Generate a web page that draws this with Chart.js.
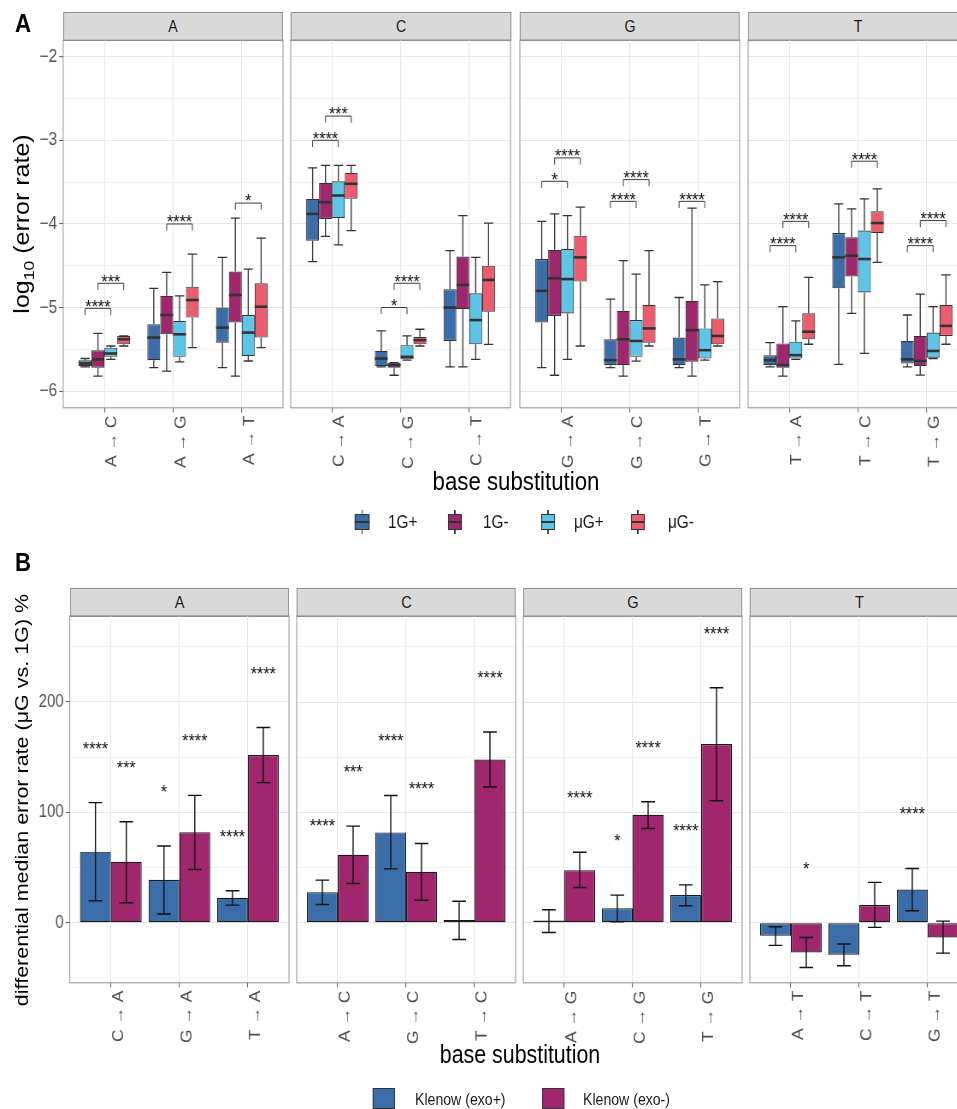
<!DOCTYPE html>
<html lang="en">
<head>
<meta charset="utf-8">
<title>Error rate by base substitution</title>
<script src="https://cdn.jsdelivr.net/npm/chart.js@4.4.1/dist/chart.umd.min.js"></script>
<style>
  html, body { margin: 0; padding: 0; background: #fff; width: 957px; height: 1109px; overflow: hidden; }
  #fig { position: absolute; left: 0; top: 0; width: 1120px; height: 1109px; transform-origin: 0 0;
         font-family: "Liberation Sans", Arial, Helvetica, sans-serif; color: #000; }
  .wrap { position: absolute; }
  .wrap canvas { display: block; }
  .strip { position: absolute; box-sizing: border-box; background: #d9d9d9; border: 1px solid #8f8f8f;
           display: flex; align-items: center; justify-content: center; color: #1a1a1a; }
  .tag { position: absolute; font-weight: bold; line-height: 1; }
  .ytitle { position: absolute; white-space: nowrap; line-height: 1; transform: translate(-50%, -50%) rotate(-90deg); }
  .ytitle sub { font-size: 0.7em; vertical-align: -0.3em; line-height: 0; }
  .xtitle { position: absolute; white-space: nowrap; line-height: 1; transform: translate(-50%, -50%); }
  .legtext { position: absolute; white-space: nowrap; line-height: 1; transform: translateY(-50%); color: #1a1a1a; }
</style>
</head>
<body>
<div id="fig"></div>
<script>
// ---------------- data ----------------
const FACETS = ['A', 'C', 'G', 'T'];

// Panel A: log10 error rate per base substitution, four conditions
const SUBS_A = ['A → C', 'A → G', 'A → T', 'C → A', 'C → G', 'C → T',
                'G → A', 'G → C', 'G → T', 'T → A', 'T → C', 'T → G'];
const GROUPS_A = ['1G+', '1G-', 'μG+', 'μG-'];

// each entry: [lower whisker, Q1, median, Q3, upper whisker]
const BOX_1G_POS = [
  [-5.71, -5.70, -5.67, -5.63, -5.61], [-5.72, -5.63, -5.36, -5.20, -4.77], [-5.72, -5.42, -5.24, -5.00, -4.40],
  [-4.45, -4.20, -3.88, -3.70, -3.33], [-5.71, -5.70, -5.61, -5.52, -5.28], [-5.71, -5.40, -5.00, -4.78, -4.32],
  [-5.72, -5.18, -4.80, -4.42, -3.97], [-5.72, -5.69, -5.63, -5.38, -4.90], [-5.72, -5.69, -5.62, -5.36, -4.88],
  [-5.71, -5.69, -5.63, -5.57, -5.42], [-5.68, -4.77, -4.40, -4.11, -3.76], [-5.71, -5.67, -5.62, -5.40, -5.09]
];
const BOX_1G_NEG = [
  [-5.82, -5.72, -5.62, -5.51, -5.31], [-5.76, -5.32, -5.09, -4.86, -4.58], [-5.82, -5.18, -4.85, -4.57, -3.93],
  [-4.15, -3.94, -3.74, -3.51, -3.30], [-5.81, -5.72, -5.69, -5.66, -5.66], [-5.71, -5.02, -4.73, -4.39, -3.90],
  [-5.81, -5.10, -4.65, -4.31, -3.88], [-5.82, -5.69, -5.38, -5.04, -4.44], [-5.82, -5.65, -5.27, -4.92, -3.81],
  [-5.82, -5.72, -5.69, -5.43, -4.99], [-5.07, -4.63, -4.38, -4.16, -3.82], [-5.81, -5.70, -5.64, -5.34, -4.84]
];
const BOX_UG_POS = [
  [-5.62, -5.59, -5.55, -5.48, -5.46], [-5.65, -5.59, -5.32, -5.16, -4.86], [-5.64, -5.58, -5.30, -5.09, -4.54],
  [-4.25, -3.93, -3.66, -3.49, -3.30], [-5.63, -5.62, -5.59, -5.45, -5.34], [-5.62, -5.44, -5.15, -4.83, -4.40],
  [-5.62, -5.07, -4.66, -4.30, -3.90], [-5.64, -5.59, -5.40, -5.15, -4.60], [-5.63, -5.61, -5.51, -5.25, -4.73],
  [-5.62, -5.61, -5.57, -5.41, -5.16], [-5.55, -4.82, -4.42, -4.08, -3.70], [-5.61, -5.60, -5.52, -5.30, -4.99]
];
const BOX_UG_NEG = [
  [-5.46, -5.44, -5.38, -5.34, -5.34], [-5.48, -5.12, -4.91, -4.75, -4.36], [-5.48, -5.36, -4.99, -4.71, -4.17],
  [-4.08, -3.70, -3.52, -3.39, -3.30], [-5.46, -5.44, -5.39, -5.35, -5.26], [-5.44, -5.05, -4.67, -4.50, -3.99],
  [-5.46, -4.69, -4.40, -4.14, -3.80], [-5.46, -5.42, -5.25, -4.97, -4.32], [-5.46, -5.44, -5.34, -5.13, -4.69],
  [-5.44, -5.38, -5.29, -5.07, -4.64], [-4.46, -4.11, -3.99, -3.85, -3.58], [-5.44, -5.34, -5.22, -4.97, -4.61]
];

// significance brackets: [substitution index, from group, to group, bracket height, label]
const BRACKETS_A = [
  [0, 0, 2, -5.01, '****'], [0, 1, 3, -4.71, '***'], [1, 1, 3, -4.00, '****'], [2, 1, 3, -3.75, '*'],
  [3, 0, 2, -3.00, '****'], [3, 1, 3, -2.71, '***'], [4, 0, 2, -5.00, '*'], [4, 1, 3, -4.71, '****'],
  [6, 0, 2, -3.49, '*'], [6, 1, 3, -3.21, '****'], [7, 0, 2, -3.73, '****'], [7, 1, 3, -3.47, '****'],
  [8, 0, 2, -3.73, '****'], [9, 0, 2, -4.26, '****'], [9, 1, 3, -3.97, '****'], [10, 1, 3, -3.25, '****'],
  [11, 0, 2, -4.26, '****'], [11, 1, 3, -3.96, '****']
];

const Y_TICKS_A = [-6, -5.5, -5, -4.5, -4, -3.5, -3, -2.5, -2];
const Y_LABELS_A = [-6, -5, -4, -3, -2];
const Y_RANGE_A = [-6.2, -1.8];

// Panel B: differential median error rate (μG vs. 1G), %
const SUBS_B = ['C → A', 'G → A', 'T → A', 'A → C', 'G → C', 'T → C',
                'A → G', 'C → G', 'T → G', 'A → T', 'C → T', 'G → T'];
const GROUPS_B = ['Klenow (exo+)', 'Klenow (exo-)'];

const DIFF_EXO_POS = [64.4, 39.0, 22.7, 27.8, 81.9, 2.5, 2.2, 13.3, 25.1, -11.8, -29.0, 30.2];
const LOW_EXO_POS  = [19.9, 7.9, 16.0, 16.6, 48.9, -15.1, -8.8, 0.9, 15.4, -20.5, -39.0, 10.9];
const HIGH_EXO_POS = [108.8, 69.5, 29.0, 38.7, 115.4, 19.6, 11.8, 25.1, 34.4, -3.6, -19.3, 49.2];
const SIG_EXO_POS  = ['****', '*', '****', '****', '****', '', '', '*', '****', '', '', '****'];

const DIFF_EXO_NEG = [55.3, 81.9, 152.0, 61.6, 46.2, 148.0, 47.7, 97.9, 162.0, -26.9, 16.0, -13.3];
const LOW_EXO_NEG  = [18.1, 48.3, 126.9, 35.6, 20.5, 123.0, 32.0, 85.5, 110.6, -40.5, -4.2, -27.5];
const HIGH_EXO_NEG = [91.5, 115.4, 176.8, 87.6, 71.9, 172.9, 64.0, 109.7, 213.0, -13.3, 36.6, 1.5];
const SIG_EXO_NEG  = ['***', '****', '****', '***', '****', '****', '****', '****', '****', '*', '', ''];

const Y_TICKS_B = [-50, 0, 50, 100, 150, 200, 250];
const Y_LABELS_B = [0, 100, 200];
const Y_RANGE_B = [-54.4, 278];

// ---------------- styling & layout ----------------
const COLORS_A = ['#3b6ea8', '#a0276e', '#5cc5e8', '#ee5b6c'];
const COLORS_B = ['#3b6ea8', '#a0276e'];
const BOX_SERIES = [BOX_1G_POS, BOX_1G_NEG, BOX_UG_POS, BOX_UG_NEG];
const BAR_SERIES = [
  { values: DIFF_EXO_POS, low: LOW_EXO_POS, high: HIGH_EXO_POS, sig: SIG_EXO_POS },
  { values: DIFF_EXO_NEG, low: LOW_EXO_NEG, high: HIGH_EXO_NEG, sig: SIG_EXO_NEG }
];
const STAR_GAP_B = 53.5;      // label height above the error bar, in axis units
const BRACKET_TIP_A = 0.08;   // bracket tip length, in axis units

const SQUEEZE = 0.855;        // horizontal compression of the whole figure
const X = v => v / SQUEEZE;

const LAYOUT_A = { lefts: [63, 291, 520, 748], width: 220, top: 40, height: 368, stripTop: 12 };
const LAYOUT_B = { lefts: [70, 297, 523.5, 750], width: 219, top: 616, height: 367, stripTop: 588 };
const FONT = '"Liberation Sans", Arial, Helvetica, sans-serif';

Chart.defaults.font.family = FONT;
Chart.defaults.color = '#4d4d4d';

const fig = document.getElementById('fig');
fig.style.transform = `scaleX(${SQUEEZE})`;

function add(cls, css, html) {
  const d = document.createElement('div');
  if (cls) d.className = cls;
  d.style.cssText = css;
  d.innerHTML = html;
  fig.appendChild(d);
  return d;
}

// ---------------- shared chart pieces ----------------
const panelFrame = {
  id: 'panelFrame',
  afterDraw(chart) {
    const { ctx, chartArea: a } = chart;
    ctx.save();
    ctx.strokeStyle = '#8f8f8f';
    ctx.lineWidth = 1;
    ctx.strokeRect(a.left, a.top, a.right - a.left, a.bottom - a.top);
    ctx.restore();
  }
};

function xAxis(labels, fontSize) {
  return {
    type: 'linear', min: -0.6, max: 2.6, offset: false, bounds: 'data',
    afterBuildTicks: ax => { ax.ticks = labels.map((_, i) => ({ value: i })); },
    grid: { offset: false, color: '#e6e6e6', lineWidth: 1.1, drawTicks: true,
            tickLength: X(4), tickWidth: 1, tickColor: '#5a5a5a' },
    border: { display: false },
    ticks: { autoSkip: false, minRotation: 90, maxRotation: 90, padding: 3,
             labelOffset: X(8), color: '#4d4d4d', font: { size: fontSize },
             callback: (v, i) => labels[i] }
  };
}

function yAxis(ticks, labels, range, show, fontSize) {
  const major = c => !!(c.tick && labels.includes(c.tick.value));
  return {
    type: 'linear', min: range[0], max: range[1], beginAtZero: false, bounds: 'data',
    afterBuildTicks: ax => { ax.ticks = ticks.map(v => ({ value: v })); },
    grid: { color: c => major(c) ? '#e6e6e6' : '#efefef', lineWidth: c => major(c) ? 1.1 : 0.8,
            drawTicks: show, tickLength: X(4), tickWidth: 1,
            tickColor: c => major(c) ? '#5a5a5a' : 'rgba(0,0,0,0)' },
    border: { display: false },
    ticks: { display: show, autoSkip: false, padding: X(2), color: '#4d4d4d', font: { size: fontSize },
             callback: v => labels.includes(v) ? String(v).replace('-', '\u2212') : '' }
  };
}

function baseOptions(xa, ya) {
  return {
    responsive: false, maintainAspectRatio: false, animation: false, devicePixelRatio: 1, events: [],
    layout: { padding: { top: 12, right: 6, bottom: 4, left: 4 } },
    plugins: { legend: { display: false }, tooltip: { enabled: false }, title: { display: false } },
    scales: { x: xa, y: ya }
  };
}

// create a chart, then size its canvas so the plot area lands on the given rectangle
function mountChart(config, area) {
  const wrap = document.createElement('div');
  wrap.className = 'wrap';
  const canvas = document.createElement('canvas');
  canvas.width = Math.round(area.w + 100);
  canvas.height = Math.round(area.h + 120);
  wrap.appendChild(canvas);
  fig.appendChild(wrap);
  const chart = new Chart(canvas, config);
  for (let pass = 0; pass < 2; pass++) {
    const a = chart.chartArea;
    const ml = a.left, mt = a.top, mr = chart.width - a.right, mb = chart.height - a.bottom;
    chart.resize(Math.round(area.w + ml + mr), Math.round(area.h + mt + mb));
  }
  const a = chart.chartArea;
  wrap.style.left = (area.x - a.left) + 'px';
  wrap.style.top = (area.y - a.top) + 'px';
  return chart;
}

// ---------------- panel A: box plots ----------------
function whiskerPlugin(idx) {
  return {
    id: 'boxWhiskers',
    afterDatasetsDraw(chart) {
      const { ctx } = chart;
      const y = chart.scales.y;
      ctx.save();
      ctx.strokeStyle = '#333333';
      BOX_SERIES.forEach((series, s) => {
        chart.getDatasetMeta(s).data.forEach((bar, j) => {
          const [lo, q1, med, q3, hi] = series[idx[j]];
          const half = bar.width / 2, cap = bar.width * 0.36;
          ctx.lineWidth = 1.3;
          ctx.beginPath();
          ctx.moveTo(bar.x, y.getPixelForValue(q3)); ctx.lineTo(bar.x, y.getPixelForValue(hi));
          ctx.moveTo(bar.x, y.getPixelForValue(q1)); ctx.lineTo(bar.x, y.getPixelForValue(lo));
          ctx.moveTo(bar.x - cap, y.getPixelForValue(hi)); ctx.lineTo(bar.x + cap, y.getPixelForValue(hi));
          ctx.moveTo(bar.x - cap, y.getPixelForValue(lo)); ctx.lineTo(bar.x + cap, y.getPixelForValue(lo));
          ctx.stroke();
          ctx.lineWidth = 2.6;
          ctx.beginPath();
          ctx.moveTo(bar.x - half, y.getPixelForValue(med)); ctx.lineTo(bar.x + half, y.getPixelForValue(med));
          ctx.stroke();
        });
      });
      ctx.restore();
    }
  };
}

function bracketPlugin(items) {
  const size = 19;
  return {
    id: 'sigBrackets',
    afterDatasetsDraw(chart) {
      const { ctx } = chart;
      const y = chart.scales.y;
      ctx.save();
      ctx.strokeStyle = '#3a3a3a';
      ctx.lineWidth = 1;
      ctx.fillStyle = '#111111';
      ctx.font = `${size}px ${FONT}`;
      ctx.textAlign = 'center';
      ctx.textBaseline = 'alphabetic';
      items.forEach(([j, a, b, yv, label]) => {
        const xa = chart.getDatasetMeta(a).data[j].x;
        const xb = chart.getDatasetMeta(b).data[j].x;
        const py = y.getPixelForValue(yv), pt = y.getPixelForValue(yv - BRACKET_TIP_A);
        ctx.beginPath();
        ctx.moveTo(xa, pt); ctx.lineTo(xa, py); ctx.lineTo(xb, py); ctx.lineTo(xb, pt);
        ctx.stroke();
        ctx.fillText(label, (xa + xb) / 2, py - 6.7 + 0.58 * size);
      });
      ctx.restore();
    }
  };
}

FACETS.forEach((name, f) => {
  const L = LAYOUT_A;
  add('strip', `left:${X(L.lefts[f])}px;top:${L.stripTop}px;width:${X(L.width)}px;height:${L.top - L.stripTop + 1}px;font-size:16.5px;`, name);

  const idx = [0, 1, 2].map(j => 3 * f + j);
  const datasets = BOX_SERIES.map((series, s) => ({
    label: GROUPS_A[s],
    data: idx.map((k, j) => ({ x: j, y: [series[k][1], series[k][3]] })),
    backgroundColor: COLORS_A[s], borderColor: '#333333', borderWidth: 1.1, borderSkipped: false,
    categoryPercentage: 0.75, barPercentage: 1
  }));
  const items = BRACKETS_A.filter(b => Math.floor(b[0] / 3) === f).map(b => [b[0] - 3 * f, b[1], b[2], b[3], b[4]]);
  mountChart({
    type: 'bar',
    data: { datasets },
    options: baseOptions(xAxis(idx.map(k => SUBS_A[k]), 17.5), yAxis(Y_TICKS_A, Y_LABELS_A, Y_RANGE_A, f === 0, 18)),
    plugins: [whiskerPlugin(idx), bracketPlugin(items), panelFrame]
  }, { x: X(L.lefts[f]), y: L.top, w: X(L.width), h: L.height });
});

add('tag', `left:${X(15)}px;top:10px;font-size:26px;`, 'A');
add('ytitle', `left:${X(22)}px;top:224px;font-size:25px;`, 'log<sub>10</sub> (error rate)');
add('xtitle', `left:${X(516)}px;top:481px;font-size:26px;`, 'base substitution');

// legend of panel A
const LEG_A_GLYPH = [362, 455, 548, 638];
const LEG_A_TEXT = [388, 483, 574, 668];
GROUPS_A.forEach((g, s) => {
  add('', `position:absolute;left:${X(LEG_A_GLYPH[s] - 7)}px;top:510px;width:${X(14)}px;height:24px;`,
    `<div style="position:absolute;left:50%;top:0;bottom:0;width:1.4px;margin-left:-0.7px;background:#333"></div>` +
    `<div style="position:absolute;left:0;right:0;top:4px;bottom:4px;box-sizing:border-box;border:1px solid #333;background:${COLORS_A[s]}"></div>` +
    `<div style="position:absolute;left:0;right:0;top:11px;height:2px;background:#333"></div>`);
  add('legtext', `left:${X(LEG_A_TEXT[s])}px;top:522px;font-size:18px;`, g);
});

// ---------------- panel B: bars with error bars ----------------
function errorPlugin(idx) {
  const size = 19;
  return {
    id: 'errorBars',
    afterDatasetsDraw(chart) {
      const { ctx } = chart;
      const y = chart.scales.y;
      ctx.save();
      ctx.strokeStyle = '#111111';
      ctx.fillStyle = '#111111';
      ctx.lineWidth = 1.4;
      ctx.font = `${size}px ${FONT}`;
      ctx.textAlign = 'center';
      ctx.textBaseline = 'alphabetic';
      BAR_SERIES.forEach((ser, s) => {
        chart.getDatasetMeta(s).data.forEach((bar, j) => {
          const k = idx[j];
          const cap = bar.width * 0.222;
          const pl = y.getPixelForValue(ser.low[k]), ph = y.getPixelForValue(ser.high[k]);
          ctx.beginPath();
          ctx.moveTo(bar.x, pl); ctx.lineTo(bar.x, ph);
          ctx.moveTo(bar.x - cap, pl); ctx.lineTo(bar.x + cap, pl);
          ctx.moveTo(bar.x - cap, ph); ctx.lineTo(bar.x + cap, ph);
          ctx.stroke();
          if (ser.sig[k]) {
            const py = y.getPixelForValue(Math.max(ser.high[k], 0) + STAR_GAP_B);
            ctx.fillText(ser.sig[k], bar.x, py + 0.58 * size);
          }
        });
      });
      ctx.restore();
    }
  };
}

FACETS.forEach((name, f) => {
  const L = LAYOUT_B;
  add('strip', `left:${X(L.lefts[f])}px;top:${L.stripTop}px;width:${X(L.width)}px;height:${L.top - L.stripTop + 1}px;font-size:17px;`, name);

  const idx = [0, 1, 2].map(j => 3 * f + j);
  const datasets = BAR_SERIES.map((ser, s) => ({
    label: GROUPS_B[s],
    data: idx.map((k, j) => ({ x: j, y: ser.values[k] })),
    backgroundColor: COLORS_B[s], borderColor: '#1a1a1a', borderWidth: 1.2, borderSkipped: false,
    categoryPercentage: 0.9, barPercentage: 1
  }));
  mountChart({
    type: 'bar',
    data: { datasets },
    options: baseOptions(xAxis(idx.map(k => SUBS_B[k]), 17.5), yAxis(Y_TICKS_B, Y_LABELS_B, Y_RANGE_B, f === 0, 17.5)),
    plugins: [errorPlugin(idx), panelFrame]
  }, { x: X(L.lefts[f]), y: L.top, w: X(L.width), h: L.height });
});

add('tag', `left:${X(15)}px;top:549px;font-size:26px;`, 'B');
add('ytitle', `left:${X(22)}px;top:800px;font-size:21.5px;`, 'differential median error rate (μG vs. 1G) %');
add('xtitle', `left:${X(520)}px;top:1054px;font-size:25px;`, 'base substitution');

// legend of panel B
const LEG_B_SWATCH = [373, 542];
const LEG_B_TEXT = [415, 583];
GROUPS_B.forEach((g, s) => {
  add('', `position:absolute;left:${X(LEG_B_SWATCH[s])}px;top:1088px;width:${X(22)}px;height:21px;box-sizing:border-box;border:1px solid #333;background:${COLORS_B[s]};`, '');
  add('legtext', `left:${X(LEG_B_TEXT[s])}px;top:1099px;font-size:16.5px;`, g);
});
</script>
</body>
</html>
